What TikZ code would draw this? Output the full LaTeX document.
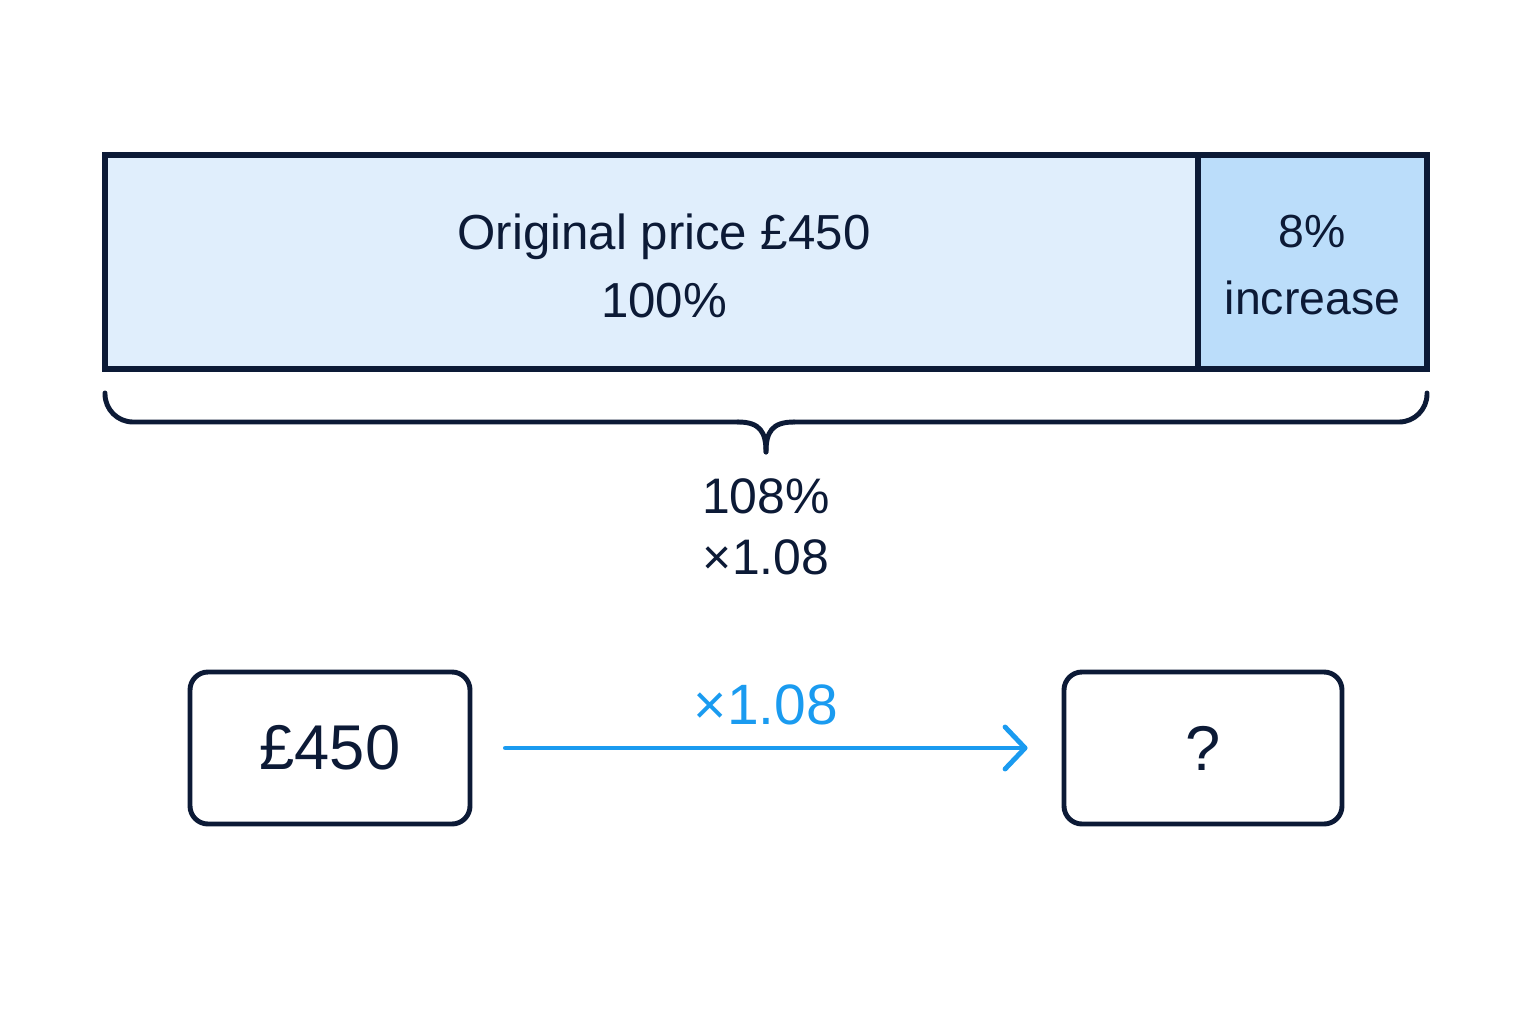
\documentclass[tikz,border=0pt]{standalone}
\usepackage{fontspec}
\setmainfont{Liberation Sans}
\usepackage{tikz}
\usetikzlibrary{positioning,arrows.meta,calc}

\definecolor{navy}{HTML}{0C1A36}
\definecolor{origfill}{HTML}{E0EEFC}
\definecolor{incfill}{HTML}{BBDDFA}
\definecolor{multblue}{HTML}{1A9BF0}

\tikzset{
	barpart/.style={draw=navy, line width=1.7pt, minimum height=2.14cm, inner sep=0pt},
	bartext/.style={text=navy, align=center},
	valbox/.style={draw=navy, line width=1.4pt, rounded corners=0.18cm, minimum width=2.8cm, minimum height=1.52cm, text=navy, font=\fontsize{18}{22}\selectfont},
	bracestyle/.style={draw=navy, line width=1.4pt, line cap=round}
}

\begin{document}
\begin{tikzpicture}
			\useasboundingbox (0,0) rectangle (15.36,10.24);
			
			% the bar
			\node[barpart, fill=origfill, minimum width=10.93cm] (orig) at (6.515, 7.62) {};
			\node[barpart, fill=incfill, minimum width=2.29cm] (inc) at (13.125, 7.62) {};
			\node[bartext, font=\fontsize{14}{19.2}\selectfont] (origtext) at (6.64, 7.58) {Original price £450\\100\%};
			\node[bartext, font=\fontsize{13.2}{19}\selectfont] (inctext) at (13.125, 7.59) {8\%\\increase};
			
			% brace under the bar
			\draw[bracestyle, rounded corners=0.28cm] (1.05, 6.31) -- (1.05, 6.02) -- (7.38, 6.02);
			\draw[bracestyle] (7.38, 6.02) .. controls (7.60, 6.02) and (7.66, 5.92) .. (7.66, 5.72);
			\draw[bracestyle] (7.94, 6.02) .. controls (7.72, 6.02) and (7.66, 5.92) .. (7.66, 5.72);
			\draw[bracestyle, rounded corners=0.28cm] (7.94, 6.02) -- (14.27, 6.02) -- (14.27, 6.31);
			
			\node[text=navy, align=center, font=\fontsize{14.2}{17.3}\selectfont] (total) at (7.66, 4.97) {108\%\\×1.08};
			
			% start and result
			\node[valbox] (start) at (3.30, 2.76) {£450};
			\node[valbox, minimum width=2.78cm] (result) at (12.03, 2.76) {?};
			
			\draw[multblue, line width=1.4pt, line cap=round, shorten <=0.33cm, shorten >=0.34cm,
				-{Straight Barb[length=0.2cm, width=0.42cm, round]}] (start) -- (result);
			\node[text=multblue, font=\fontsize{16.2}{19}\selectfont] (mult) at (7.66, 3.19) {×1.08};
			
			\end{tikzpicture}
\end{document}
